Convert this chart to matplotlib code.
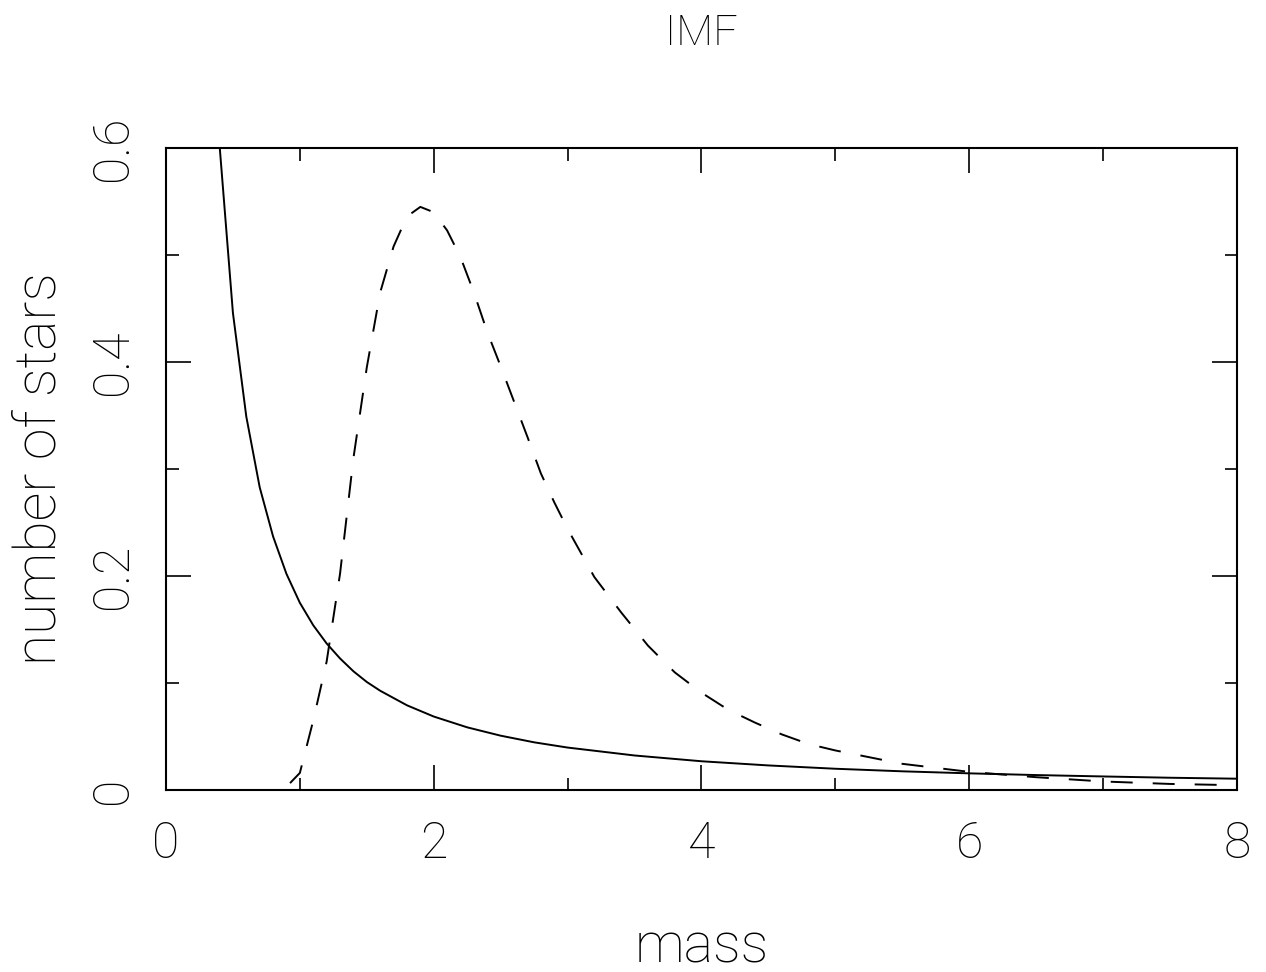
import matplotlib
matplotlib.use("Agg")
import matplotlib.pyplot as plt
from matplotlib.ticker import MultipleLocator

# solid curve (power-law IMF)
mass_solid = [0.3, 0.4, 0.5, 0.6, 0.7, 0.8, 0.9, 1.0, 1.1, 1.2, 1.3, 1.4, 1.5,
              1.6, 1.8, 2.0, 2.25, 2.5, 2.75, 3.0, 3.5, 4.0, 4.5, 5.0, 5.5,
              6.0, 6.5, 7.0, 7.5, 8.0]
n_solid = [0.889, 0.603, 0.446, 0.349, 0.283, 0.237, 0.202, 0.175, 0.154,
           0.137, 0.123, 0.111, 0.101, 0.0928, 0.0792, 0.0687, 0.0586,
           0.0508, 0.0446, 0.0397, 0.0323, 0.0269, 0.0230, 0.0199, 0.0175,
           0.0156, 0.0140, 0.0127, 0.0115, 0.0106]

# dashed curve (peaked distribution)
mass_dash = [0.0, 0.2, 0.4, 0.6, 0.8, 0.9, 1.0, 1.1, 1.2, 1.3, 1.4, 1.5, 1.6,
             1.7, 1.8, 1.9, 2.0, 2.1, 2.2, 2.3, 2.4, 2.5, 2.6, 2.7, 2.8, 2.9,
             3.0, 3.2, 3.4, 3.6, 3.8, 4.0, 4.2, 4.4, 4.6, 4.8, 5.0, 5.5, 6.0,
             6.5, 7.0, 7.5, 8.0]
n_dash = [0.0, 0.0, 0.0, 0.0, 0.0, 0.003, 0.016, 0.065, 0.120, 0.202, 0.31,
          0.395, 0.465, 0.508, 0.536, 0.545, 0.540, 0.523, 0.498, 0.465,
          0.428, 0.396, 0.363, 0.330, 0.296, 0.269, 0.244, 0.199, 0.166,
          0.135, 0.110, 0.091, 0.075, 0.063, 0.052, 0.043, 0.037, 0.0245,
          0.017, 0.012, 0.008, 0.0057, 0.0045]

xticks = [0, 2, 4, 6, 8]
yticks = [0, 0.2, 0.4, 0.6]
yticklabels = ["0", "0.2", "0.4", "0.6"]

plt.rcParams['font.family'] = ['Roboto', 'DejaVu Sans']
plt.rcParams['font.weight'] = 'light'
plt.rcParams['text.color'] = 'black'

fig = plt.figure(figsize=(12.66, 9.72), dpi=100)
ax = fig.add_axes([0.1311, 0.1872, 0.846, 0.6605])

ax.plot(mass_solid, n_solid, color='black', lw=1.4)
ax.plot(mass_dash, n_dash, color='black', lw=1.4, linestyle=(0, (11.3, 10.3)))

ax.set_xlim(0, 8)
ax.set_ylim(0, 0.6)
ax.set_xticks(xticks)
ax.set_xticklabels([str(t) for t in xticks])
ax.set_yticks(yticks)
ax.set_yticklabels(yticklabels, rotation=90, va='center')
ax.xaxis.set_minor_locator(MultipleLocator(1))
ax.yaxis.set_minor_locator(MultipleLocator(0.1))

ax.tick_params(which='both', direction='in', top=True, right=True, width=1.2)
ax.tick_params(which='major', length=18)
ax.tick_params(which='minor', length=9)
ax.tick_params(axis='x', which='major', pad=22, labelsize=36)
ax.tick_params(axis='y', which='major', pad=21, labelsize=36)
for s in ax.spines.values():
    s.set_linewidth(1.5)

ax.set_xlabel("mass", fontsize=40, fontweight='light', labelpad=38)
ax.set_ylabel("number of stars", fontsize=41, fontweight='light', labelpad=16)
ax.set_title("IMF", fontsize=31, fontweight='light', pad=74)

fig.savefig("out.png", dpi=100)
